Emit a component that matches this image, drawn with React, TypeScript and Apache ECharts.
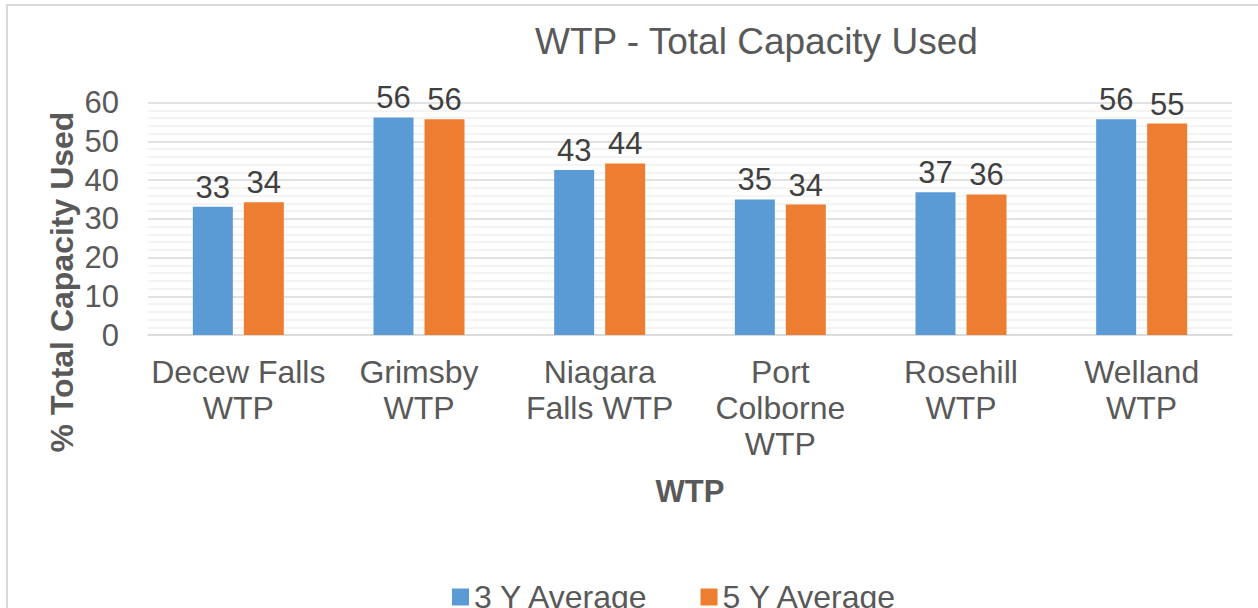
import React, { useEffect, useRef } from "react";
import * as echarts from "echarts";

const categories = [
  "Decew Falls\nWTP",
  "Grimsby\nWTP",
  "Niagara\nFalls WTP",
  "Port\nColborne\nWTP",
  "Rosehill\nWTP",
  "Welland\nWTP",
];
const avg3Y = [33.1, 56.2, 42.6, 35.0, 36.9, 55.7];
const avg5Y = [34.3, 55.7, 44.3, 33.7, 36.3, 54.6];
const seriesNames = ["3 Y Average", "5 Y Average"];
const chartTitle = "WTP - Total Capacity Used";
const xTitle = "WTP";
const yTitle = "% Total Capacity Used";

const FONT = "'Liberation Sans', Arial, sans-serif";

export default function App() {
  const ref = useRef<HTMLDivElement>(null);
  useEffect(() => {
    if (!ref.current) return;
    const chart = echarts.init(ref.current, undefined, { renderer: "svg" });
    const labelCfg = {
      show: true,
      position: "top" as const,
      distance: 4,
      fontSize: 31,
      color: "#404040",
      fontFamily: FONT,
      formatter: (p: any) => String(Math.round(p.value)),
    };
    chart.setOption({
      animation: false,
      backgroundColor: "#ffffff",
      textStyle: { fontFamily: FONT },
      title: {
        text: chartTitle,
        left: 535,
        top: 23,
        padding: 0,
        textStyle: { fontSize: 37, fontWeight: "normal", color: "#595959", fontFamily: FONT },
      },
      legend: {
        left: 452,
        top: 581,
        padding: 0,
        itemWidth: 17,
        itemHeight: 17,
        itemGap: 51,
        icon: "rect",
        textStyle: { fontSize: 32, color: "#595959", fontFamily: FONT },
        data: seriesNames,
      },
      grid: { left: 148, right: 26, top: 102.7, bottom: 273 },
      xAxis: {
        type: "category",
        data: categories,
        name: xTitle,
        nameLocation: "middle",
        nameGap: 141,
        nameTextStyle: { fontSize: 31, fontWeight: "bold", color: "#595959", fontFamily: FONT },
        axisLine: { show: true, lineStyle: { color: "#d9d9d9", width: 1.5 } },
        axisTick: { show: false },
        axisLabel: {
          interval: 0,
          fontSize: 32,
          lineHeight: 36,
          color: "#595959",
          margin: 19,
          fontFamily: FONT,
        },
      },
      yAxis: {
        type: "value",
        min: 0,
        max: 60,
        interval: 10,
        axisLine: { show: false },
        axisTick: { show: false },
        axisLabel: { fontSize: 31, color: "#595959", margin: 29, fontFamily: FONT },
        splitLine: { show: true, lineStyle: { color: "#d9d9d9", width: 1.5 } },
        minorTick: { show: false, splitNumber: 5 },
        minorSplitLine: { show: true, lineStyle: { color: "#f0f0f0", width: 1.5 } },
      },
      graphic: [
        {
          type: "rect",
          shape: { x: 7, y: 5, width: 1400, height: 800 },
          style: { fill: "none", stroke: "#d9d9d9", lineWidth: 2 },
          silent: true,
        },
        {
          type: "text",
          x: 62,
          y: 282,
          rotation: Math.PI / 2,
          style: {
            text: yTitle,
            fontSize: 32,
            fontWeight: "bold",
            fill: "#595959",
            fontFamily: FONT,
            align: "center",
            verticalAlign: "middle",
          },
        },
      ],
      series: [
        {
          name: seriesNames[0],
          type: "bar",
          data: avg3Y,
          barWidth: 40,
          barGap: "27.5%",
          itemStyle: { color: "#5b9bd5" },
          label: labelCfg,
        },
        {
          name: seriesNames[1],
          type: "bar",
          data: avg5Y,
          barWidth: 40,
          barGap: "27.5%",
          itemStyle: { color: "#ed7d31" },
          label: labelCfg,
        },
      ],
    });
    return () => chart.dispose();
  }, []);
  return (
    <div
      ref={ref}
      style={{ position: "fixed", left: 0, top: 0, width: 1258, height: 608, background: "#fff" }}
    />
  );
}
